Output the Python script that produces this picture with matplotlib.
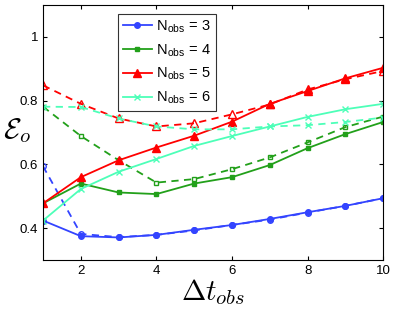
import matplotlib.pyplot as plt
from matplotlib.ticker import FuncFormatter

plt.rcParams['font.family'] = ['Liberation Sans', 'DejaVu Sans']
plt.rcParams['mathtext.fontset'] = 'cm'

# Data
dt = [1, 2, 3, 4, 5, 6, 7, 8, 9, 10]
n_obs = [3, 4, 5, 6]

solid = {
    3: [0.424, 0.375, 0.371, 0.379, 0.395, 0.41, 0.429, 0.45, 0.47, 0.494],
    4: [0.478, 0.54, 0.512, 0.507, 0.54, 0.56, 0.598, 0.651, 0.695, 0.733],
    5: [0.478, 0.56, 0.613, 0.653, 0.69, 0.734, 0.79, 0.83, 0.87, 0.903],
    6: [0.424, 0.523, 0.577, 0.617, 0.658, 0.689, 0.719, 0.749, 0.773, 0.79],
}
dashed = {
    3: [0.594, 0.382, 0.372, 0.379, 0.393, 0.41, 0.427, 0.449, 0.47, 0.494],
    4: [0.781, 0.689, 0.613, 0.543, 0.554, 0.585, 0.622, 0.669, 0.717, 0.75],
    5: [0.848, 0.79, 0.744, 0.719, 0.729, 0.757, 0.788, 0.835, 0.867, 0.893],
    6: [0.781, 0.78, 0.744, 0.719, 0.71, 0.71, 0.719, 0.723, 0.733, 0.747],
}

colors = {3: '#3344ff', 4: '#22a01a', 5: '#ff0000', 6: '#4dffb8'}
markers = {3: 'o', 4: 's', 5: '^', 6: 'x'}
msizes = {3: 4, 4: 3.5, 5: 6, 6: 5}

fig = plt.figure(figsize=(3.95, 3.1), dpi=100)
ax = fig.add_axes([0.109, 0.161, 0.861, 0.823])

for n in n_obs:
    c = colors[n]
    ax.plot(dt, dashed[n], '--', color=c, marker=markers[n], ms=msizes[n],
            mfc='none' if n != 6 else c, mec=c, lw=1.3, dashes=(4, 3))
    ax.plot(dt, solid[n], '-', color=c, marker=markers[n], ms=msizes[n],
            mfc=c, mec=c, lw=1.3,
            label=r'N$_{\mathregular{obs}}$ = %d' % n)

ax.set_xlim(1, 10)
ax.set_ylim(0.3, 1.1)
ax.set_xticks([2, 4, 6, 8, 10])
ax.set_yticks([0.4, 0.6, 0.8, 1.0])
ax.yaxis.set_major_formatter(FuncFormatter(lambda v, p: '%g' % v))
ax.tick_params(direction='in', top=True, right=True, labelsize=9.5, length=3)

ax.set_xlabel(r'$\Delta t_{obs}$', fontsize=21, labelpad=0)
ax.set_ylabel(r'$\mathcal{E}_o$', fontsize=21, rotation=0, labelpad=2)
ax.yaxis.set_label_coords(-0.075, 0.45)

leg = ax.legend(loc='upper left', bbox_to_anchor=(0.2, 0.993), fontsize=10.5,
                frameon=True, fancybox=False, edgecolor='black',
                handlelength=2.0, borderpad=0.3, labelspacing=0.5,
                handletextpad=0.3)
leg.get_frame().set_linewidth(0.8)

fig.savefig('out.png', dpi=100)
